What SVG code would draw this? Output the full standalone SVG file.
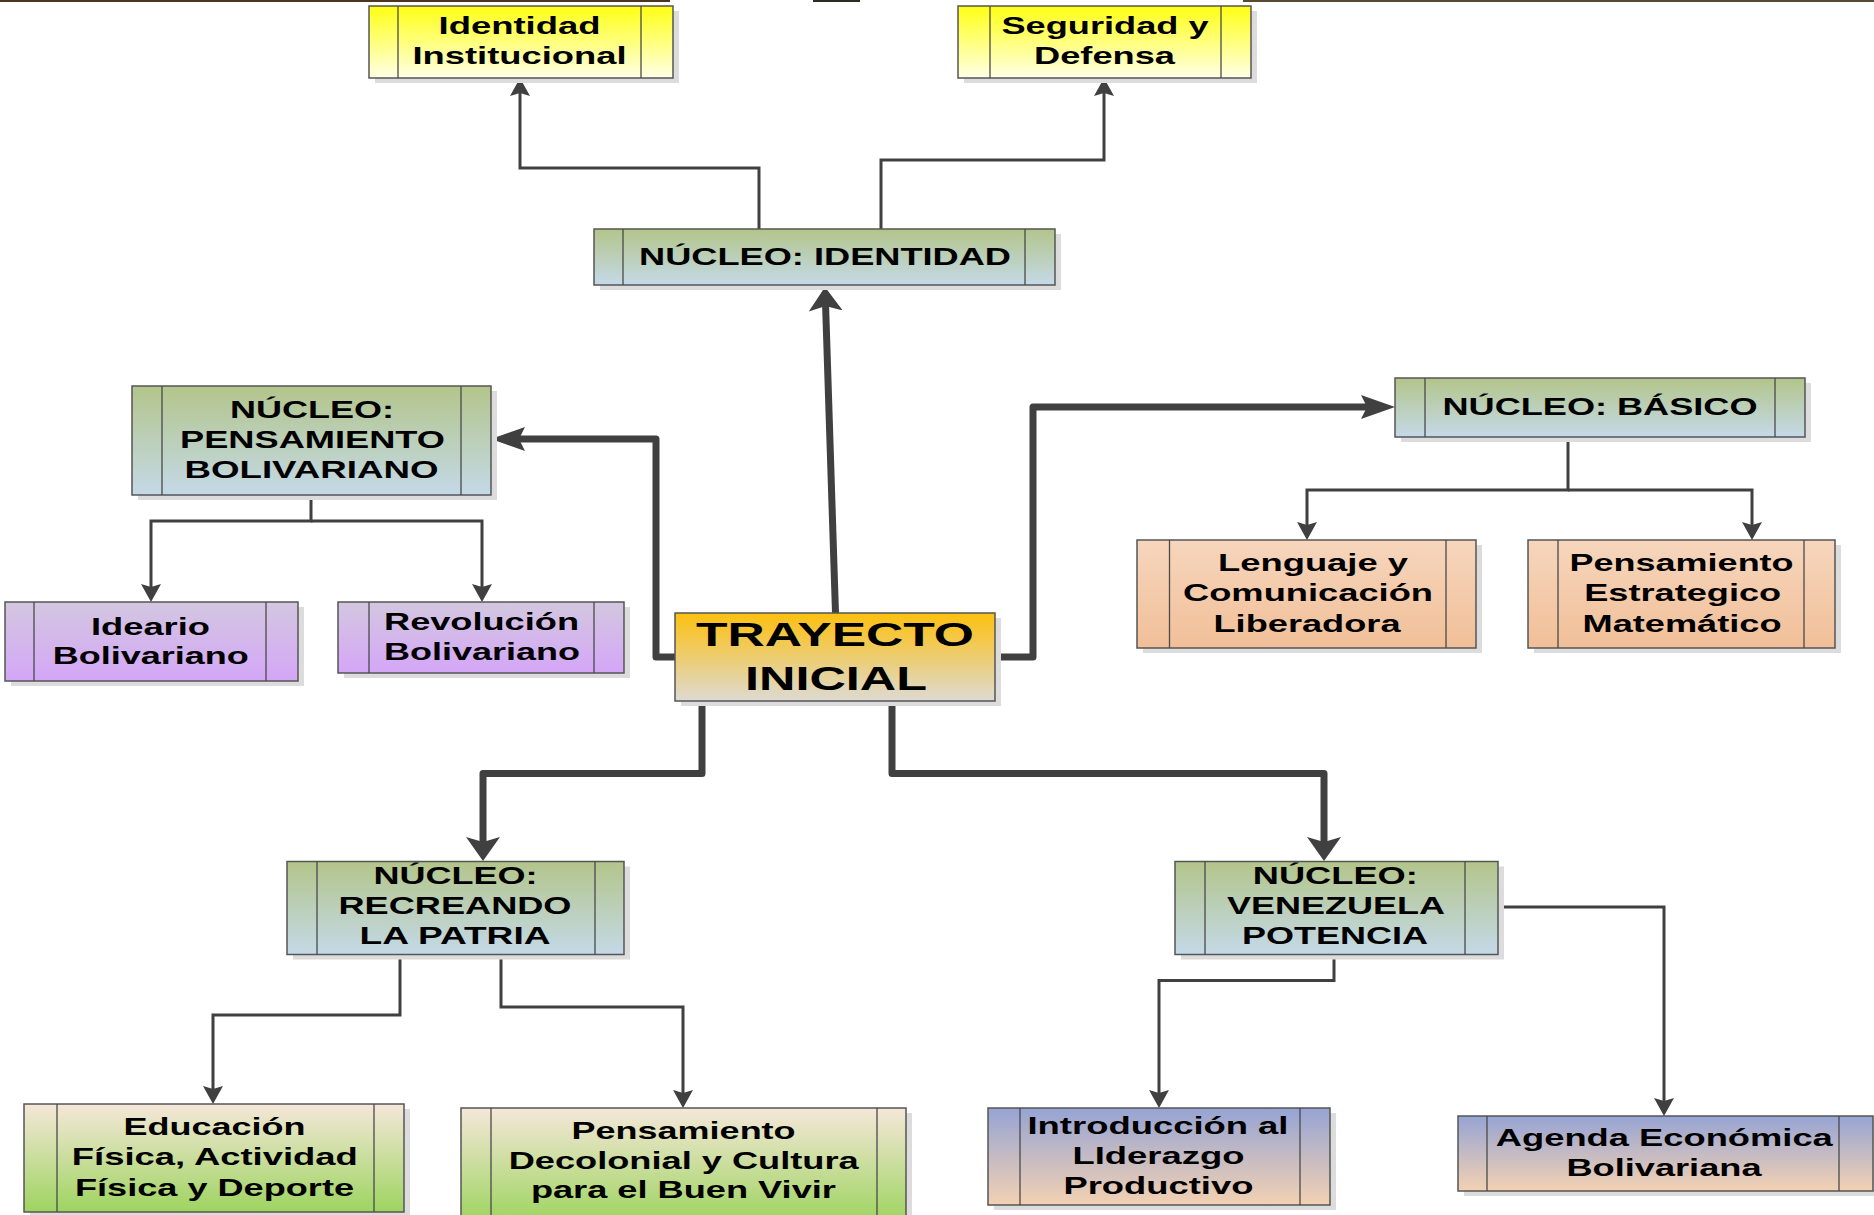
<svg xmlns="http://www.w3.org/2000/svg" width="1874" height="1215" viewBox="0 0 1874 1215">
<defs>
<linearGradient id="gY" x1="0" y1="0" x2="0" y2="1"><stop offset="0" stop-color="#FFFF14"/><stop offset="1" stop-color="#FFFFE6"/></linearGradient>
<linearGradient id="gN" x1="0" y1="0" x2="0" y2="1"><stop offset="0" stop-color="#B3C58A"/><stop offset="1" stop-color="#C4D9E8"/></linearGradient>
<linearGradient id="gP" x1="0" y1="0" x2="0" y2="1"><stop offset="0" stop-color="#D3C7E0"/><stop offset="1" stop-color="#D4A6F7"/></linearGradient>
<linearGradient id="gO" x1="0" y1="0" x2="0" y2="1"><stop offset="0" stop-color="#F6D6BD"/><stop offset="1" stop-color="#F1BF98"/></linearGradient>
<linearGradient id="gG" x1="0" y1="0" x2="0" y2="1"><stop offset="0" stop-color="#F5E7D9"/><stop offset="1" stop-color="#9ED460"/></linearGradient>
<linearGradient id="gB" x1="0" y1="0" x2="0" y2="1"><stop offset="0" stop-color="#96A4D4"/><stop offset="1" stop-color="#F3D1B2"/></linearGradient>
<linearGradient id="gT" x1="0" y1="0" x2="0" y2="1"><stop offset="0" stop-color="#FDC00F"/><stop offset="1" stop-color="#DDDAD2"/></linearGradient>
<marker id="aThin" markerUnits="userSpaceOnUse" viewBox="0 -11 19 22" markerWidth="19" markerHeight="22" refX="3" refY="0" orient="auto"><path d="M0,-10 L18,0 L0,10 L3,0 Z" fill="#404040"/></marker>
<marker id="aThickV" markerUnits="userSpaceOnUse" viewBox="0 -18 25 36" markerWidth="25" markerHeight="36" refX="5" refY="0" orient="auto"><path d="M0,-17 L24,0 L0,17 L5,0 Z" fill="#404040"/></marker>
<marker id="aThickH" markerUnits="userSpaceOnUse" viewBox="0 -13 35 26" markerWidth="35" markerHeight="26" refX="6" refY="0" orient="auto"><path d="M0,-12 L34,0 L0,12 L6,0 Z" fill="#404040"/></marker>
</defs>
<style>
.sh{fill:#DCDCDC}
.bx{stroke:#555555;stroke-width:1.5}
.il{stroke:#4a4a4a;stroke-width:1.3}
.t{font-family:"Liberation Sans",Arial,sans-serif;font-weight:bold;font-size:24px;fill:#000;text-anchor:middle}
.tb{font-size:32.5px}
.thin{fill:none;stroke:#404040;stroke-width:3;stroke-linejoin:miter}
.thick{fill:none;stroke:#404040;stroke-width:7;stroke-linejoin:round;stroke-linecap:round}
</style>
<rect width="1874" height="1215" fill="#FFFFFF"/>
<rect x="0" y="0" width="670" height="2" fill="#4A3422"/>
<rect x="813" y="0" width="47" height="2" fill="#2C2C22"/>
<rect x="1243" y="0" width="631" height="2" fill="#5A4A30"/>

<g id="connectors">
<path class="thin" d="M759,229 V168 H520 V93" marker-end="url(#aThin)"/>
<path class="thin" d="M881,229 V160 H1104 V93" marker-end="url(#aThin)"/>
<path class="thin" d="M311,495 V521 H151 V587" marker-end="url(#aThin)"/>
<path class="thin" d="M311,521 H482 V587" marker-end="url(#aThin)"/>
<path class="thin" d="M1568,437 V490 H1307 V525" marker-end="url(#aThin)"/>
<path class="thin" d="M1568,490 H1752 V525" marker-end="url(#aThin)"/>
<path class="thin" d="M400,954 V1015 H213 V1089" marker-end="url(#aThin)"/>
<path class="thin" d="M501,954 V1007 H683 V1093" marker-end="url(#aThin)"/>
<path class="thin" d="M1334,954 V980.5 H1159 V1093" marker-end="url(#aThin)"/>
<path class="thin" d="M1498,907 H1664 V1101" marker-end="url(#aThin)"/>
<path class="thick" d="M835.5,613 L825.6,306" marker-end="url(#aThickV)"/>
<path class="thick" d="M675,657 H656 V439 H519" marker-end="url(#aThickH)"/>
<path class="thick" d="M995,657 H1033 V407 H1367" marker-end="url(#aThickH)"/>
<path class="thick" d="M702,701 V773.5 H483 V842" marker-end="url(#aThickV)"/>
<path class="thick" d="M892,701 V773.5 H1324 V842" marker-end="url(#aThickV)"/>
</g>

<g id="identidad-institucional">
<rect class="sh" x="375" y="11" width="304" height="72"/>
<rect class="bx" x="369" y="6" width="304" height="72" fill="url(#gY)"/>
<line class="il" x1="398" y1="6" x2="398" y2="78"/><line class="il" x1="641" y1="6" x2="641" y2="78"/>
<text class="t" x="519.5" y="34" textLength="162" lengthAdjust="spacingAndGlyphs">Identidad</text>
<text class="t" x="519.5" y="64" textLength="214" lengthAdjust="spacingAndGlyphs">Institucional</text>
</g>

<g id="seguridad-defensa">
<rect class="sh" x="964" y="11" width="293" height="72"/>
<rect class="bx" x="958" y="6" width="293" height="72" fill="url(#gY)"/>
<line class="il" x1="990" y1="6" x2="990" y2="78"/><line class="il" x1="1221" y1="6" x2="1221" y2="78"/>
<text class="t" x="1105" y="34" textLength="207" lengthAdjust="spacingAndGlyphs">Seguridad y</text>
<text class="t" x="1104.5" y="63.5" textLength="141" lengthAdjust="spacingAndGlyphs">Defensa</text>
</g>

<g id="nucleo-identidad">
<rect class="sh" x="600" y="234" width="461" height="56"/>
<rect class="bx" x="594" y="229" width="461" height="56" fill="url(#gN)"/>
<line class="il" x1="623" y1="229" x2="623" y2="285"/><line class="il" x1="1025" y1="229" x2="1025" y2="285"/>
<text class="t" x="825" y="265" textLength="372" lengthAdjust="spacingAndGlyphs">NÚCLEO: IDENTIDAD</text>
</g>

<g id="nucleo-pensamiento">
<rect class="sh" x="138" y="391" width="359" height="109"/>
<rect class="bx" x="132" y="386" width="359" height="109" fill="url(#gN)"/>
<line class="il" x1="162" y1="386" x2="162" y2="495"/><line class="il" x1="461" y1="386" x2="461" y2="495"/>
<text class="t" x="312" y="418" textLength="164" lengthAdjust="spacingAndGlyphs">NÚCLEO:</text>
<text class="t" x="312.5" y="448" textLength="265" lengthAdjust="spacingAndGlyphs">PENSAMIENTO</text>
<text class="t" x="311.5" y="477.5" textLength="254" lengthAdjust="spacingAndGlyphs">BOLIVARIANO</text>
</g>

<g id="ideario">
<rect class="sh" x="11" y="607" width="293" height="79"/>
<rect class="bx" x="5" y="602" width="293" height="79" fill="url(#gP)"/>
<line class="il" x1="34" y1="602" x2="34" y2="681"/><line class="il" x1="266" y1="602" x2="266" y2="681"/>
<text class="t" x="150.5" y="635" textLength="119" lengthAdjust="spacingAndGlyphs">Ideario</text>
<text class="t" x="150.7" y="664" textLength="196" lengthAdjust="spacingAndGlyphs">Bolivariano</text>
</g>

<g id="revolucion">
<rect class="sh" x="344" y="607" width="286" height="71"/>
<rect class="bx" x="338" y="602" width="286" height="71" fill="url(#gP)"/>
<line class="il" x1="369" y1="602" x2="369" y2="673"/><line class="il" x1="594" y1="602" x2="594" y2="673"/>
<text class="t" x="481.5" y="630" textLength="195" lengthAdjust="spacingAndGlyphs">Revolución</text>
<text class="t" x="482" y="660" textLength="196" lengthAdjust="spacingAndGlyphs">Bolivariano</text>
</g>

<g id="trayecto-inicial">
<rect class="sh" x="681" y="618" width="320" height="88"/>
<rect class="bx" x="675" y="613" width="320" height="88" fill="url(#gT)"/>
<text class="t tb" x="835" y="646" textLength="278" lengthAdjust="spacingAndGlyphs">TRAYECTO</text>
<text class="t tb" x="836" y="690" textLength="182" lengthAdjust="spacingAndGlyphs">INICIAL</text>
</g>

<g id="nucleo-basico">
<rect class="sh" x="1401" y="383" width="410" height="59"/>
<rect class="bx" x="1395" y="378" width="410" height="59" fill="url(#gN)"/>
<line class="il" x1="1425" y1="378" x2="1425" y2="437"/><line class="il" x1="1775" y1="378" x2="1775" y2="437"/>
<text class="t" x="1600" y="415" textLength="315" lengthAdjust="spacingAndGlyphs">NÚCLEO: BÁSICO</text>
</g>

<g id="lenguaje">
<rect class="sh" x="1143" y="545" width="339" height="108"/>
<rect class="bx" x="1137" y="540" width="339" height="108" fill="url(#gO)"/>
<line class="il" x1="1169.5" y1="540" x2="1169.5" y2="648"/><line class="il" x1="1446" y1="540" x2="1446" y2="648"/>
<text class="t" x="1313" y="571" textLength="190" lengthAdjust="spacingAndGlyphs">Lenguaje y</text>
<text class="t" x="1308" y="601" textLength="250" lengthAdjust="spacingAndGlyphs">Comunicación</text>
<text class="t" x="1307" y="632" textLength="187" lengthAdjust="spacingAndGlyphs">Liberadora</text>
</g>

<g id="pensamiento-estrategico">
<rect class="sh" x="1534" y="545" width="307" height="108"/>
<rect class="bx" x="1528" y="540" width="307" height="108" fill="url(#gO)"/>
<line class="il" x1="1558" y1="540" x2="1558" y2="648"/><line class="il" x1="1804" y1="540" x2="1804" y2="648"/>
<text class="t" x="1681.6" y="571" textLength="224" lengthAdjust="spacingAndGlyphs">Pensamiento</text>
<text class="t" x="1682.7" y="601" textLength="197" lengthAdjust="spacingAndGlyphs">Estrategico</text>
<text class="t" x="1682" y="632" textLength="199" lengthAdjust="spacingAndGlyphs">Matemático</text>
</g>

<g id="nucleo-recreando">
<rect class="sh" x="293" y="866.5" width="337" height="93"/>
<rect class="bx" x="287" y="861.5" width="337" height="93" fill="url(#gN)"/>
<line class="il" x1="317" y1="861.5" x2="317" y2="954.5"/><line class="il" x1="595" y1="861.5" x2="595" y2="954.5"/>
<text class="t" x="455.6" y="883.5" textLength="164" lengthAdjust="spacingAndGlyphs">NÚCLEO:</text>
<text class="t" x="455" y="913.6" textLength="233" lengthAdjust="spacingAndGlyphs">RECREANDO</text>
<text class="t" x="455" y="944.4" textLength="191" lengthAdjust="spacingAndGlyphs">LA PATRIA</text>
</g>

<g id="nucleo-venezuela">
<rect class="sh" x="1181" y="866.5" width="323" height="93"/>
<rect class="bx" x="1175" y="861.5" width="323" height="93" fill="url(#gN)"/>
<line class="il" x1="1205" y1="861.5" x2="1205" y2="954.5"/><line class="il" x1="1465" y1="861.5" x2="1465" y2="954.5"/>
<text class="t" x="1335.3" y="883.5" textLength="165" lengthAdjust="spacingAndGlyphs">NÚCLEO:</text>
<text class="t" x="1336" y="913.6" textLength="218" lengthAdjust="spacingAndGlyphs">VENEZUELA</text>
<text class="t" x="1335" y="944.4" textLength="186" lengthAdjust="spacingAndGlyphs">POTENCIA</text>
</g>

<g id="educacion">
<rect class="sh" x="30" y="1109" width="380" height="108"/>
<rect class="bx" x="24" y="1104" width="380" height="108" fill="url(#gG)"/>
<line class="il" x1="57" y1="1104" x2="57" y2="1212"/><line class="il" x1="374" y1="1104" x2="374" y2="1212"/>
<text class="t" x="214.5" y="1135.3" textLength="182" lengthAdjust="spacingAndGlyphs">Educación</text>
<text class="t" x="214.8" y="1165.4" textLength="286" lengthAdjust="spacingAndGlyphs">Física, Actividad</text>
<text class="t" x="214.5" y="1195.5" textLength="279" lengthAdjust="spacingAndGlyphs">Física y Deporte</text>
</g>

<g id="pensamiento-decolonial">
<rect class="sh" x="467" y="1113" width="445" height="114"/>
<rect class="bx" x="461" y="1108" width="445" height="114" fill="url(#gG)"/>
<line class="il" x1="491" y1="1108" x2="491" y2="1222"/><line class="il" x1="877" y1="1108" x2="877" y2="1222"/>
<text class="t" x="683.6" y="1138.6" textLength="224" lengthAdjust="spacingAndGlyphs">Pensamiento</text>
<text class="t" x="683.7" y="1168.8" textLength="350" lengthAdjust="spacingAndGlyphs">Decolonial y Cultura</text>
<text class="t" x="683.4" y="1198.2" textLength="305" lengthAdjust="spacingAndGlyphs">para el Buen Vivir</text>
</g>

<g id="introduccion">
<rect class="sh" x="994" y="1113" width="342" height="97"/>
<rect class="bx" x="988" y="1108" width="342" height="97" fill="url(#gB)"/>
<line class="il" x1="1020" y1="1108" x2="1020" y2="1205"/><line class="il" x1="1300" y1="1108" x2="1300" y2="1205"/>
<text class="t" x="1158" y="1133.6" textLength="261" lengthAdjust="spacingAndGlyphs">Introducción al</text>
<text class="t" x="1158.4" y="1163.7" textLength="172" lengthAdjust="spacingAndGlyphs">LIderazgo</text>
<text class="t" x="1158.4" y="1193.9" textLength="190" lengthAdjust="spacingAndGlyphs">Productivo</text>
</g>

<g id="agenda">
<rect class="sh" x="1464" y="1121" width="415" height="75"/>
<rect class="bx" x="1458" y="1116" width="415" height="75" fill="url(#gB)"/>
<line class="il" x1="1487" y1="1116" x2="1487" y2="1191"/><line class="il" x1="1839" y1="1116" x2="1839" y2="1191"/>
<text class="t" x="1664.3" y="1146" textLength="337" lengthAdjust="spacingAndGlyphs">Agenda Económica</text>
<text class="t" x="1664" y="1175.5" textLength="195" lengthAdjust="spacingAndGlyphs">Bolivariana</text>
</g>
</svg>
